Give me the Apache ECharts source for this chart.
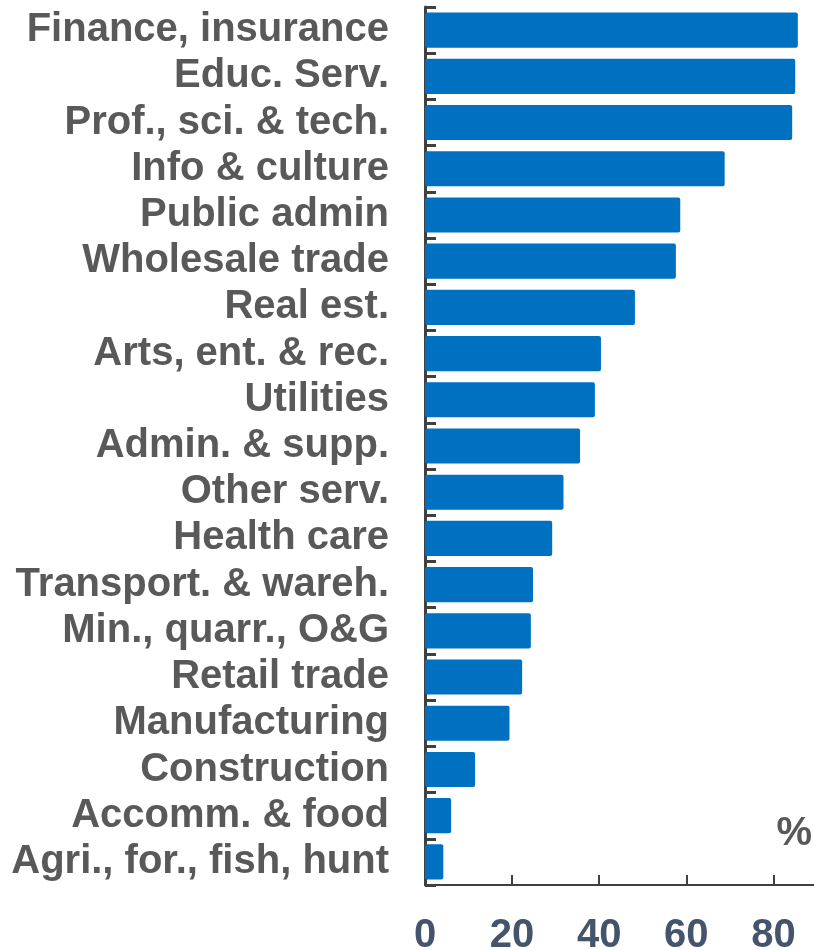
<!DOCTYPE html>
<html>
<head>
<meta charset="utf-8">
<script src="https://cdn.jsdelivr.net/npm/echarts@6/dist/echarts.min.js"></script>
<style>
  html, body { margin: 0; padding: 0; background: #fff; }
  #main { width: 814px; height: 950px; }
</style>
</head>
<body>
<div id="main"></div>
<script>
// categories, top to bottom
const categories = [
  'Finance, insurance', 'Educ. Serv.', 'Prof., sci. & tech.', 'Info & culture',
  'Public admin', 'Wholesale trade', 'Real est.', 'Arts, ent. & rec.',
  'Utilities', 'Admin. & supp.', 'Other serv.', 'Health care',
  'Transport. & wareh.', 'Min., quarr., O&G', 'Retail trade', 'Manufacturing',
  'Construction', 'Accomm. & food', 'Agri., for., fish, hunt'
];
// share in %
const values = [
  85.6, 85.0, 84.3, 68.8,
  58.6, 57.6, 48.2, 40.4,
  39.0, 35.6, 31.8, 29.2,
  24.8, 24.3, 22.3, 19.4,
  11.5, 6.0, 4.2
];
const xMin = 0;
const xMax = 90;
const xStep = 20;
const unitLabel = '%';

const FONT = '"Liberation Sans", Arial, sans-serif';
const chart = echarts.init(document.getElementById('main'));

chart.setOption({
  animation: false,
  grid: { left: 425, right: -3, top: 7, bottom: 65, containLabel: false, outerBoundsMode: 'none' },
  xAxis: {
    type: 'value',
    min: xMin,
    max: xMax,
    interval: xStep,
    splitLine: { show: false },
    axisLine: { show: true, lineStyle: { color: '#404040', width: 2 } },
    axisTick: { show: true, inside: true, length: 10, lineStyle: { color: '#404040', width: 2 } },
    axisLabel: {
      showMaxLabel: false,
      margin: 31,
      color: '#44546a',
      fontSize: 40,
      fontWeight: 'bold',
      fontFamily: FONT
    }
  },
  yAxis: {
    type: 'category',
    inverse: true,
    data: categories,
    axisLine: { show: true, lineStyle: { color: '#404040', width: 3 } },
    axisTick: { show: true, inside: true, interval: 0, length: 11, lineStyle: { color: '#404040', width: 3 } },
    axisLabel: {
      interval: 0,
      margin: 36,
      color: '#595959',
      fontSize: 40,
      fontWeight: 'bold',
      fontFamily: FONT
    }
  },
  series: [{
    type: 'bar',
    data: values,
    barCategoryGap: '24%',
    itemStyle: { color: '#0070C0', borderRadius: 2 }
  }],
  graphic: [{
    type: 'text',
    right: 2,
    top: 814,
    style: {
      text: unitLabel,
      fill: '#595959',
      font: 'bold 40px ' + FONT
    }
  }]
});

window.onresize = () => {
  chart.resize()
}
</script>
</body>
</html>
